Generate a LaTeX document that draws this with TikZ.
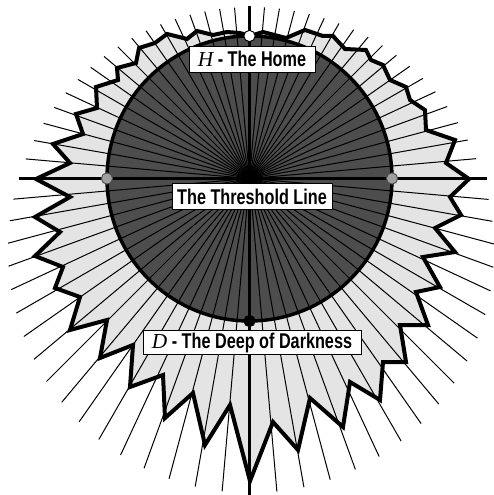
\documentclass[tikz,border=0pt]{standalone}
\usepackage{fontspec}
\setmainfont{Liberation Sans}
\newfontfamily\labfont{Liberation Sans}[FakeStretch=0.76]
\newfontfamily\timesf{Liberation Serif}
\definecolor{darkfill}{HTML}{4D4D4D}
\definecolor{lightfill}{HTML}{E4E4E4}
\definecolor{dotgray}{HTML}{A0A0A0}
\def\starpath{(36,179) -- (70,163) -- (53,144) -- (83,134) -- (76,114) -- (97,108) -- (96,87) -- (118,80) -- (117,68) -- (136,63) -- (139,48) -- (155,43) -- (167,34) -- (187,39) -- (197,31) -- (213,35) -- (227,32) -- (240,33) -- (250,36)
 -- (263,32) -- (286,38) -- (305,30) -- (323,36) -- (333,36) -- (345,49) -- (366,50) -- (371,60) -- (383,65) -- (390,80) -- (406,87) -- (410,100) -- (425,110) -- (426,130) -- (455,140) -- (446,163) -- (469,179)
 -- (450,197) -- (461,215) -- (435,228) -- (455,252) -- (423,257) -- (440,287) -- (416,292) -- (428,325) -- (400,325) -- (406,362) -- (383,362) -- (380,400) -- (350,382) -- (343,427) -- (310,398) -- (298,450) -- (273,422) -- (250,481)
 -- (230,405) -- (205,445) -- (193,393) -- (165,418) -- (163,375) -- (130,387) -- (133,345) -- (100,358) -- (107,320) -- (70,330) -- (80,297) -- (55,288) -- (63,267) -- (35,256) -- (60,232) -- (35,217) -- (70,197) -- cycle}
\begin{document}
\begin{tikzpicture}[x=0.75pt,y=-0.75pt,
  ray/.style={line width=0.75pt},
  axisline/.style={line width=2.6pt},
  outline/.style={line width=3pt,line join=miter},
  ringline/.style={line width=2.6pt},
  lab/.style={draw=black,fill=white,line width=0.7pt,inner sep=0pt,font=\labfont\bfseries\fontsize{16}{18}\selectfont},
  dot/.style={circle,inner sep=0pt,minimum size=8.5pt,line width=0.7pt}]
\useasboundingbox (0,0) rectangle (493,495);
\coordinate (F) at (249.5,178.5);
% star fill
\path[fill=lightfill] \starpath;
% dark disc
\fill[darkfill] (F) circle[radius=142.5];
% rays
\foreach \a in {0,5,...,355} {
  \pgfmathsetmacro\bb{0.15*cos(\a)+7.15*sin(\a)}
  \pgfmathsetmacro\tt{10*(\bb+sqrt(\bb*\bb+539.35))}
  \draw[ray] (F) -- ++(\a:\tt);
}
% star outline
\draw[outline] \starpath;
% circle outline
\draw[ringline] (F) circle[radius=142.5];
% axes
\coordinate (L) at (19,178.5);
\coordinate (R) at (487,178.5);
\coordinate (T) at (249.5,6);
\coordinate (B) at (249.5,495);
\draw[axisline] (L) -- (R);
\draw[axisline] (T) -- (B);
% dots
\node[dot,fill=white,draw=black] (home) at (249.5,36) {};
\node[dot,fill=dotgray,draw=gray!60!black] (west) at (107,178.5) {};
\node[dot,fill=dotgray,draw=gray!60!black] (east) at (392,178.5) {};
\node[dot,fill=black,draw=black] (deep) at (249.5,321) {};
% labels
\node[lab,minimum width=94.5pt,minimum height=19.5pt] (hl) at (252,59) {{\timesf\itshape\mdseries H} - The Home};
\node[lab,minimum width=120pt,minimum height=20pt] (tl) at (252,196.5) {The Threshold Line};
\node[lab,minimum width=163.5pt,minimum height=17.5pt] (dl) at (252,342.5) {{\timesf\itshape\mdseries D} - The Deep of Darkness};
\end{tikzpicture}
\end{document}
